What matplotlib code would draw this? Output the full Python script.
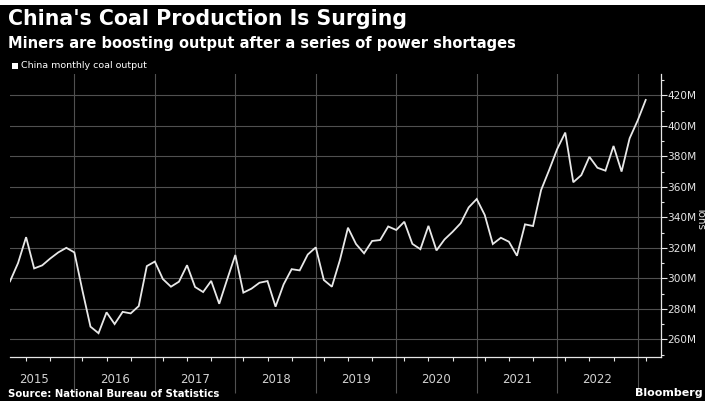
import numpy as np
import matplotlib
matplotlib.use("Agg")
import matplotlib.pyplot as plt
from matplotlib.patches import Rectangle

# monthly coal output, million tons (NBS reports Mar-Dec; Jan-Feb combined is skipped)
years = [2015] * 8 + [y for y in range(2016, 2023) for _ in range(10)] + [2023] * 2
months = list(range(5, 13)) + list(range(3, 13)) * 7 + [3, 4]
output = [
    298, 310, 327, 306.5, 308.5, 313, 317, 320,                      # 2015
    317, 292, 268.3, 264, 277.7, 270, 278, 277, 281.8, 308,          # 2016
    311, 299.5, 294.5, 297.8, 308.6, 294.3, 291, 298.3, 283.3, 299.5,  # 2017
    315.3, 290.6, 293.2, 297.1, 298.2, 281.4, 296, 306, 305.2, 315.6,  # 2018
    320.3, 298.9, 294.5, 312, 333.2, 322.5, 316.4, 324.5, 325.1, 334,  # 2019
    331.7, 337.1, 322.6, 319.1, 334.4, 318.3, 325.5, 330.5, 336.1, 346.5,  # 2020
    352, 341.5, 322.5, 326.6, 324, 314.8, 335.4, 334.3, 357.9, 371,  # 2021
    384.8, 395.6, 363, 367.7, 379.7, 372.5, 370.6, 386.8, 370, 391.8,  # 2022
    403.5, 417,                                                      # 2023
]
year_labels = ["2015", "2016", "2017", "2018", "2019", "2020", "2021", "2022"]
yticks = [260, 280, 300, 320, 340, 360, 380, 400, 420]

BG = "black"
GRID = "#505050"
FG = "#e6e6e6"

W, H = 705, 401
fig = plt.figure(figsize=(W / 100, H / 100), dpi=100, facecolor=BG)

# plot area in pixels: x 10..661, y 74..357
ax = fig.add_axes([10 / W, 1 - 357 / H, (661 - 10) / W, (357 - 74) / H], facecolor=BG)

x = np.arange(len(output))
ax.plot(x, output, color="#e8e8e8", lw=1.3, solid_joinstyle="miter", zorder=3)

ax.set_xlim(0, 80.9)
ax.set_ylim(248.4, 434)

# year boundaries sit on the first point (March) of each year
bounds = [i for i in range(len(months)) if months[i] == 3]
minors = [i for i in range(len(months)) if months[i] in (4, 7, 10)]
ax.set_xticks(bounds)
ax.set_xticklabels([])
ax.set_xticks(minors, minor=True)
ax.tick_params(axis="x", which="major", length=26, width=0.8, color=GRID, direction="out")
ax.tick_params(axis="x", which="minor", length=3, width=0.8, color=FG, direction="out")
for b in bounds:
    ax.axvline(b, color=GRID, lw=0.8, zorder=1)
for k, lab in enumerate(year_labels):
    ax.text(bounds[k] - 5, -0.055, lab, transform=ax.get_xaxis_transform(),
            ha="center", va="top", color="#d0d0d0", fontsize=8.5)

ax.yaxis.tick_right()
ax.set_yticks(yticks)
ax.set_yticklabels([f"{v}M" for v in yticks])
ax.set_yticks(np.arange(250, 435, 10), minor=True)
ax.tick_params(axis="y", which="major", length=4, width=0.8, color=FG,
               labelcolor=FG, labelsize=7.6, pad=0.5)
ax.tick_params(axis="y", which="minor", length=2, width=0.8, color=FG)
for v in yticks:
    ax.axhline(v, color=GRID, lw=0.8, zorder=1)

for side in ["top", "left"]:
    ax.spines[side].set_visible(False)
ax.spines["right"].set_color(FG)
ax.spines["bottom"].set_color(FG)
ax.spines["right"].set_linewidth(0.9)
ax.spines["bottom"].set_linewidth(0.9)

fig.text(696 / W, 1 - 217 / H, "Tons", rotation=270, color=FG, fontsize=7.5,
         ha="left", va="center")

# header
fig.add_artist(Rectangle((0, 1 - 5 / H), 1, 5 / H, transform=fig.transFigure,
                         facecolor="white", edgecolor="none"))
fig.text(8 / W, 1 - 9 / H, "China's Coal Production Is Surging", color="white",
         fontsize=14.8, fontweight="bold", ha="left", va="top")
fig.text(8 / W, 1 - 36 / H, "Miners are boosting output after a series of power shortages",
         color="white", fontsize=10.5, fontweight="bold", ha="left", va="top")
fig.add_artist(Rectangle((12 / W, 1 - 69 / H), 6 / W, 6 / H, transform=fig.transFigure,
                         facecolor="white", edgecolor="none"))
fig.text(21 / W, 1 - 66 / H, "China monthly coal output", color="white",
         fontsize=6.8, ha="left", va="center")

# footer
fig.text(8 / W, 1 - 397 / H, "Source: National Bureau of Statistics", color="white",
         fontsize=7.3, fontweight="bold", ha="left", va="baseline")
fig.text(703 / W, 1 - 396 / H, "Bloomberg", color="white",
         fontsize=8, fontweight="bold", ha="right", va="baseline")

fig.savefig("out.png", dpi=100, facecolor=BG)
